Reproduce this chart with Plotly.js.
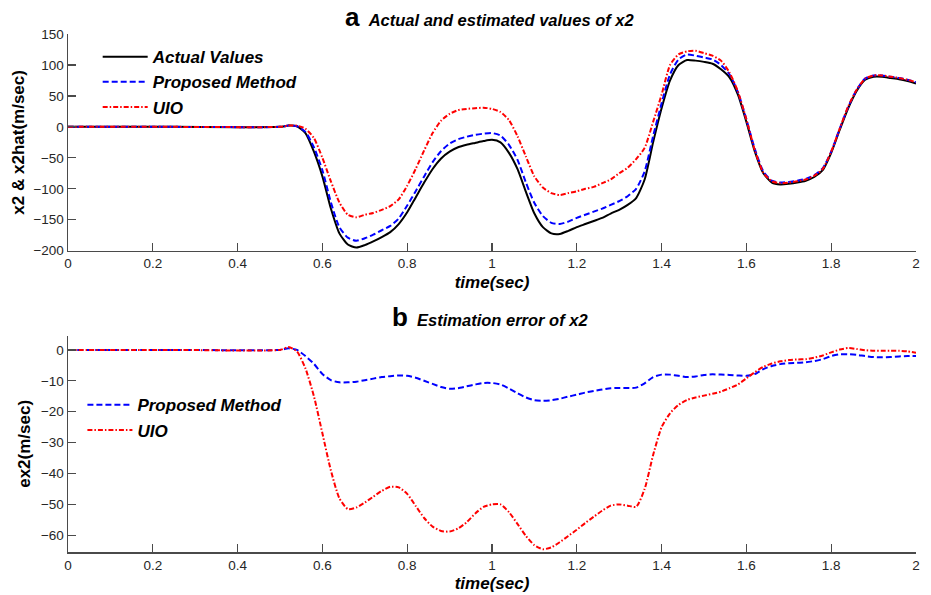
<!DOCTYPE html>
<html>
<head>
<meta charset="utf-8">
<script src="https://cdn.plot.ly/plotly-3.0.1.min.js"></script>
<style>html,body{margin:0;padding:0;background:#fff;}#chart{width:931px;height:595px;}</style>
</head>
<body>
<div id="chart"></div>
<script>
// time grid (sec)
var time = [0, 0.25, 0.5, 0.52, 0.54, 0.56, 0.58, 0.60, 0.62, 0.64, 0.66, 0.68, 0.70, 0.72, 0.74, 0.76, 0.78, 0.80,
  0.82, 0.84, 0.86, 0.88, 0.90, 0.92, 0.94, 0.96, 0.98, 1.00, 1.02, 1.04, 1.06, 1.08, 1.10, 1.12, 1.14, 1.16, 1.18, 1.20,
  1.22, 1.24, 1.26, 1.28, 1.30, 1.32, 1.34, 1.36, 1.38, 1.40, 1.42, 1.44, 1.46, 1.48, 1.50, 1.52, 1.54, 1.56, 1.58, 1.60,
  1.62, 1.64, 1.66, 1.68, 1.70, 1.72, 1.74, 1.76, 1.78, 1.80, 1.82, 1.84, 1.86, 1.88, 1.90, 1.92, 1.94, 1.96, 1.98, 2.00];

// (a) actual and estimated values of x2
var actualX2 = [0, 0, 0, 2, 1, -10, -40, -80, -132, -172, -190, -195, -191, -185, -178, -170, -157, -138,
  -114, -90, -68, -51, -40, -33, -29, -26, -23, -21, -25, -42, -68, -105, -140, -162, -172, -173, -168, -162,
  -157, -152, -147, -140, -134, -126, -115, -85, -25, 30, 75, 100, 108, 107, 105, 102, 93, 80, 52, 8,
  -40, -75, -90, -93, -92, -90, -87, -81, -70, -42, -5, 30, 58, 76, 81, 81, 79, 77, 74, 70];
var proposedX2 = [0, 0, 0, 2, 1, -8, -33, -70, -122, -162, -179, -184, -180, -174, -167, -160, -148, -127,
  -104, -80, -57, -39, -27, -20, -16, -13, -11, -10, -14, -29, -53, -90, -123, -144, -155, -157, -153, -147,
  -142, -137, -132, -126, -120, -112, -100, -72, -15, 38, 85, 109, 117, 115, 112, 109, 100, 85, 56, 12,
  -36, -72, -87, -90, -89, -87, -84, -78, -67, -40, -3, 32, 60, 78, 83, 83, 81, 79, 76, 72];
var uioX2 = [0, 0, 0, 2, 2, -3, -18, -50, -88, -122, -142, -146, -142, -139, -134, -128, -117, -95,
  -68, -38, -10, 10, 21, 27, 29, 30, 31, 29, 24, 11, -15, -48, -80, -98, -107, -110, -107, -104,
  -100, -97, -91, -85, -75, -66, -52, -34, 8, 52, 100, 117, 122, 123, 119, 115, 107, 88, 57, 12,
  -38, -74, -88, -91, -90, -88, -85, -79, -68, -40, -3, 33, 60, 78, 83, 83, 81, 79, 76, 72];

// (b) estimation error of x2
var proposedErr = [0, 0, 0, 0.5, 0, -2, -4.5, -7.8, -9.8, -10.5, -10.5, -10.3, -9.8, -9.3, -8.8, -8.5, -8.3, -8.4,
  -9.0, -10.0, -11.0, -12.0, -12.6, -12.4, -11.8, -11.2, -10.7, -10.7, -11.2, -12.5, -14.0, -15.4, -16.3, -16.5, -16.3, -15.8, -15.1, -14.5,
  -13.8, -13.3, -12.8, -12.4, -12.3, -12.3, -12.2, -10.8, -8.8, -8.0, -8.0, -8.4, -8.8, -8.6, -8.1, -7.9, -8.0, -8.1, -8.3, -8.4,
  -7.8, -6.2, -5.2, -4.6, -4.3, -4.2, -4.0, -3.6, -3.0, -2.0, -1.4, -1.4, -1.6, -2.0, -2.3, -2.4, -2.3, -2.1, -2.0, -2.0];
var uioErr = [0, 0, 0, 0.9, -0.5, -6, -15, -27, -39, -48, -51.5, -51, -49.4, -47.5, -45.6, -44.3, -44.5, -46.6,
  -50.5, -54.4, -57.2, -58.6, -58.8, -57.8, -55.8, -53, -50.8, -50.0, -50.0, -52.5, -56.3, -60.2, -63.2, -64.5, -63.9, -62.2, -60.2, -58.2,
  -56, -54, -52, -50.4, -50, -50.4, -50.8, -45, -34, -25, -20.5, -17.8, -16.2, -15.4, -14.8, -14.2, -13.5, -12.4, -11.2, -9.2,
  -7.2, -5.5, -4.4, -3.7, -3.3, -3.1, -3.0, -2.5, -1.8, -0.8, 0.1, 0.6, 0.3, -0.1, -0.3, -0.3, -0.3, -0.3, -0.5, -0.9];

var seriesNames = ['Actual Values', 'Proposed Method', 'UIO'];

var FONT = 'Liberation Sans, Arial, sans-serif';
var lineW = 2;
function tr(x, y, name, color, dash, xa, ya, lg, show) {
  return {x: x, y: y, name: name, type: 'scatter', mode: 'lines', xaxis: xa, yaxis: ya, legend: lg, showlegend: show,
    line: {color: color, width: lineW, dash: dash, shape: 'spline', smoothing: 0.6}};
}
var data = [
  tr(time, actualX2, seriesNames[0], '#000000', 'solid', 'x', 'y', 'legend', true),
  tr(time, proposedX2, seriesNames[1], '#0000ff', '6px,3px', 'x', 'y', 'legend', true),
  tr(time, uioX2, seriesNames[2], '#ff0000', '5px,2px,1.5px,2px', 'x', 'y', 'legend', true),
  tr(time, proposedErr, seriesNames[1], '#0000ff', '6px,3px', 'x2', 'y2', 'legend2', true),
  tr(time, uioErr, seriesNames[2], '#ff0000', '5px,2px,1.5px,2px', 'x2', 'y2', 'legend2', true)
];

function xax(anchor) {
  return {range: [0, 2], dtick: 0.2, tick0: 0, anchor: anchor, showline: true, linecolor: '#4a4a4a', linewidth: 1.5,
    ticks: 'inside', ticklen: 8, tickwidth: 1.2, tickcolor: '#4a4a4a', showgrid: false, zeroline: false,
    tickfont: {family: FONT, size: 13.5, color: '#262626'},
    title: {text: '<b><i>time(sec)</i></b>', font: {family: FONT, size: 17, color: '#000'}, standoff: 5}};
}
function yax(anchor, range, dtick, domain, title, standoff) {
  return {range: range, dtick: dtick, anchor: anchor, domain: domain, showline: true, linecolor: '#4a4a4a', linewidth: 1.5,
    ticks: 'inside', ticklen: 8, tickwidth: 1.2, tickcolor: '#4a4a4a', showgrid: false, zeroline: false,
    tickfont: {family: FONT, size: 13.5, color: '#262626'},
    title: {text: '<b>' + title + '</b>', font: {family: FONT, size: 17, color: '#000'}, standoff: standoff}};
}

var layout = {
  width: 931, height: 595,
  margin: {l: 68, r: 15, t: 34, b: 43},
  paper_bgcolor: '#fff', plot_bgcolor: '#fff',
  font: {family: FONT},
  xaxis: xax('y'),
  yaxis: yax('x', [-200, 150], 50, [0.5817, 1], 'x2 &amp; x2hat(m/sec)', 4),
  xaxis2: xax('y2'),
  yaxis2: yax('x2', [-65.4, 4.6], 10, [0, 0.4176], 'ex2(m/sec)', 6),
  legend: {x: 0.035, y: 0.99, xanchor: 'left', yanchor: 'top', bgcolor: 'rgba(0,0,0,0)', borderwidth: 0, itemwidth: 45,
    font: {family: FONT, size: 17, color: '#000', weight: 'bold', style: 'italic'}, tracegroupgap: 0},
  legend2: {x: 0.017, y: 0.318, xanchor: 'left', yanchor: 'top', bgcolor: 'rgba(0,0,0,0)', borderwidth: 0, itemwidth: 45,
    font: {family: FONT, size: 17, color: '#000', weight: 'bold', style: 'italic'}, tracegroupgap: 0},
  annotations: [
    {xref: 'paper', yref: 'paper', x: 0.4976, y: 1.033, xanchor: 'center', yanchor: 'middle', showarrow: false,
      text: '<span style="font-size:26px"><b>a</b></span>  <b><i>Actual and estimated values of x2</i></b>',
      font: {family: FONT, size: 16.5, color: '#000'}},
    {xref: 'paper', yref: 'paper', x: 0.4976, y: 0.4537, xanchor: 'center', yanchor: 'middle', showarrow: false,
      text: '<span style="font-size:26px"><b>b</b></span>  <b><i>Estimation error of x2</i></b>',
      font: {family: FONT, size: 16.5, color: '#000'}}
  ]
};

Plotly.newPlot('chart', data, layout, {displayModeBar: false, staticPlot: true});
</script>
</body>
</html>
